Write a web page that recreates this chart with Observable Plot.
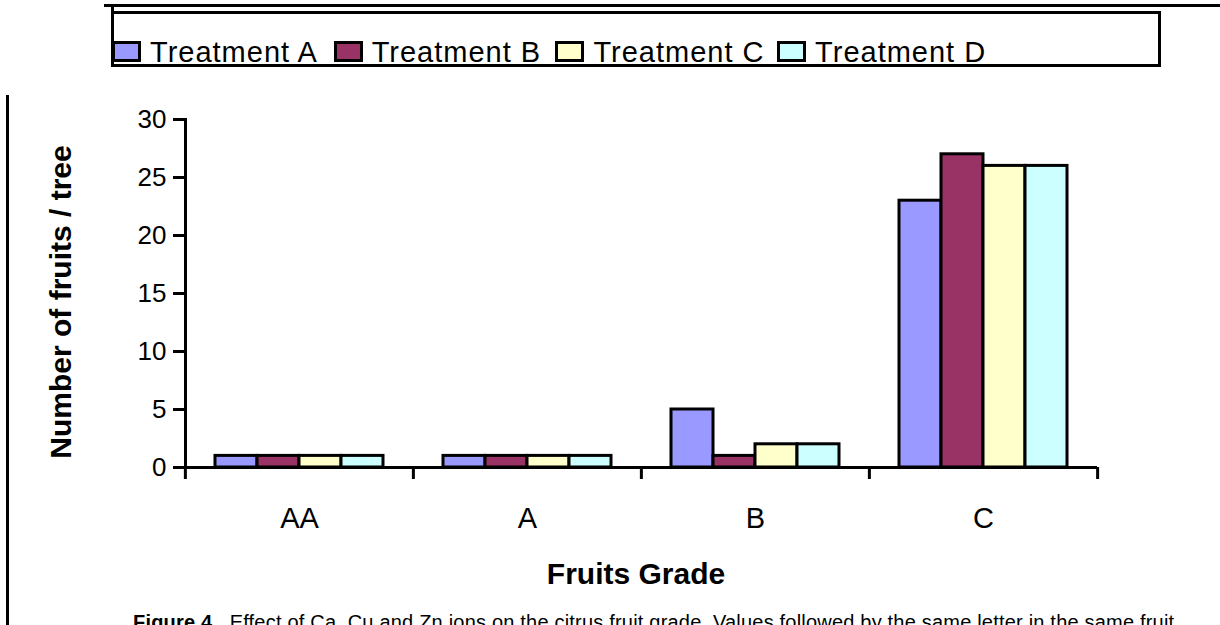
<!DOCTYPE html>
<html><head><meta charset="utf-8">
<script src="https://cdn.jsdelivr.net/npm/d3@7"></script>
<script src="https://cdn.jsdelivr.net/npm/@observablehq/plot@0.6"></script>
<style>
html,body{margin:0;padding:0;background:#fff;}
#wrap{position:relative;width:1220px;height:625px;overflow:hidden;font-family:"Liberation Sans",Arial,sans-serif;color:#000;background:#fff;}
#wrap svg{position:absolute;left:0;top:0;}
.line{position:absolute;background:#000;}
.legbox{position:absolute;left:111px;top:11px;width:1050px;height:56px;box-sizing:border-box;border:3px solid #000;}
.sw{position:absolute;width:29px;height:21px;box-sizing:border-box;border:3px solid #000;top:41px;}
.lt{position:absolute;top:37.5px;font-size:29px;line-height:29px;letter-spacing:1px;white-space:nowrap;}
.ylab{position:absolute;left:-139px;top:287px;width:400px;height:30px;line-height:30px;text-align:center;font-weight:bold;font-size:30px;transform:rotate(-90deg);white-space:nowrap;}
.xlab{position:absolute;left:436px;top:558.6px;width:400px;height:30px;line-height:30px;text-align:center;font-weight:bold;font-size:30px;white-space:nowrap;}
.cap{position:absolute;left:133px;top:612px;font-size:20px;line-height:20px;letter-spacing:0.2px;white-space:pre;}
</style></head><body><div id="wrap"></div>
<script>
const grades = ["AA", "A", "B", "C"];
const treatments = ["Treatment A", "Treatment B", "Treatment C", "Treatment D"];
const treatmentA = [1, 1, 5, 23];
const treatmentB = [1, 1, 1, 27];
const treatmentC = [1, 1, 2, 26];
const treatmentD = [1, 1, 2, 26];
const colors = ["#9999FF", "#993366", "#FFFFCC", "#CCFFFF"];
const yTicks = [0, 5, 10, 15, 20, 25, 30];
const yLabel = "Number of fruits / tree";
const xLabel = "Fruits Grade";
const captionBold = "Figure 4.";
const captionText = "Effect of Ca, Cu and Zn ions on the citrus fruit grade. Values followed by the same letter in the same fruit";

const series = [treatmentA, treatmentB, treatmentC, treatmentD];
const data = grades.flatMap((g, i) => treatments.map((t, j) => ({grade: g, treatment: t, value: series[j][i]})));

const W = 1220, H = 625, ML = 184, MR = 123, MT = 119, MB = 158;
const half = (W - ML - MR) / grades.length / 2;
const font = '"Liberation Sans", Arial, sans-serif';
const SW = 3;

const chart = Plot.plot({
  width: W, height: H,
  marginLeft: ML, marginRight: MR, marginTop: MT, marginBottom: MB,
  style: {fontFamily: font, color: "black", background: "transparent", overflow: "visible"},
  fx: {domain: grades, padding: 0},
  x: {domain: treatments, paddingInner: 0, paddingOuter: 0.71, axis: null},
  y: {domain: [0, 30]},
  color: {domain: treatments, range: colors},
  marks: [
    Plot.barY(data, {fx: "grade", x: "treatment", y: "value", fill: "treatment", stroke: "black", strokeWidth: SW}),
    Plot.ruleY([0], {stroke: "black", strokeWidth: SW}),
    Plot.frame({anchor: "left", facetAnchor: "left", stroke: "black", strokeWidth: SW}),
    Plot.axisY({ticks: yTicks, tickSize: 12, tickPadding: 7, fontSize: 26, strokeWidth: SW, label: null}),
    Plot.axisFx({anchor: "bottom", tickSize: 0, tickPadding: 40, fontSize: 29, label: null}),
    Plot.axisFx({anchor: "bottom", tickSize: 12, tickFormat: () => "", dx: -half, strokeWidth: SW, label: null}),
    Plot.axisFx({anchor: "bottom", ticks: [grades[grades.length - 1]], tickSize: 12, tickFormat: () => "", dx: half, strokeWidth: SW, label: null})
  ]
});

const wrap = document.getElementById("wrap");
wrap.appendChild(chart);

function el(cls, css, text) {
  const d = document.createElement("div");
  d.className = cls;
  if (css) Object.assign(d.style, css);
  if (text != null) d.textContent = text;
  wrap.appendChild(d);
  return d;
}
// page / legend frame lines
el("line", {left: "104px", top: "4px", width: "1116px", height: "3px"});
el("line", {left: "6px", top: "95px", width: "3px", height: "530px"});
el("line", {left: "111px", top: "5px", width: "3px", height: "8px"});
el("legbox");
treatments.forEach((t, i) => {
  const x = 112 + i * 221.7;
  el("sw", {left: x + "px", background: colors[i]});
  el("lt", {left: (x + 38) + "px"}, t);
});
el("ylab", null, yLabel);
el("xlab", null, xLabel);
const cap = el("cap");
const b = document.createElement("b");
b.textContent = captionBold;
cap.appendChild(b);
cap.appendChild(document.createTextNode("  " + captionText));
</script></body></html>
